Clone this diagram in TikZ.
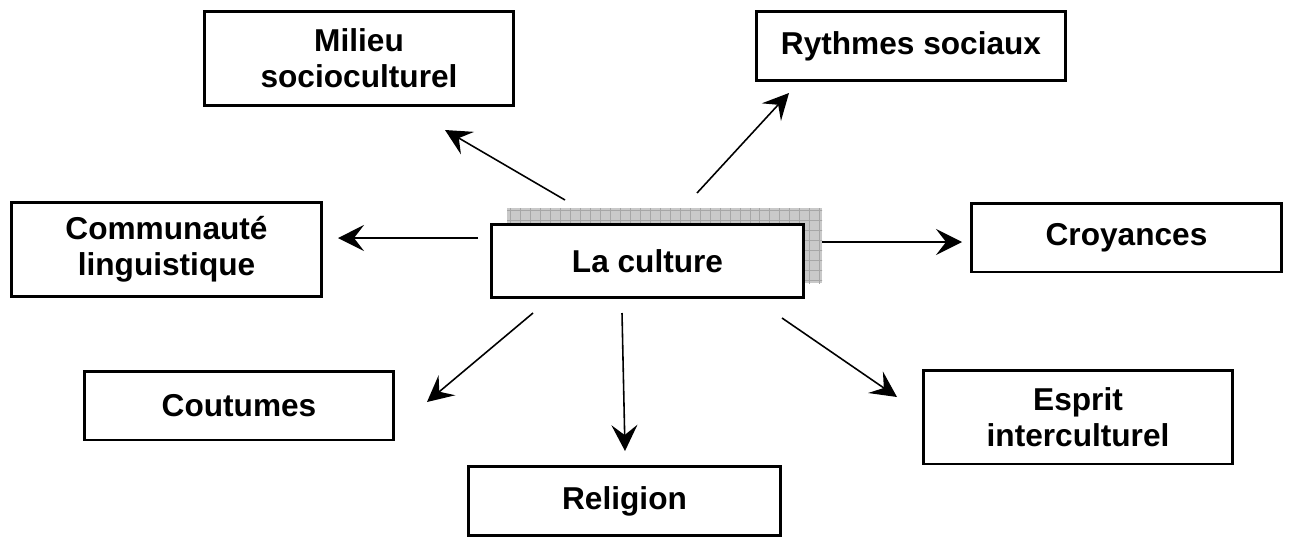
\documentclass[tikz,border=0pt]{standalone}
\usepackage{fontspec}
\setmainfont{Liberation Sans}
\usetikzlibrary{arrows.meta, calc}

\begin{document}
\begin{tikzpicture}[
        x=0.02cm, y=-0.02cm,
        box/.style={rectangle, draw, line width=1.7pt, align=center, fill=white, minimum width=6.2cm, minimum height=1.38cm, font=\fontsize{18}{20.5}\selectfont\bfseries},
        tallbox/.style={box, minimum height=1.88cm},
        arrow/.style={-{Stealth[length=5.2mm, width=5.2mm, inset=2mm]}, line width=0.9pt}
        ]
        \useasboundingbox (0,0) rectangle (1290,538);

        % Shadow of the centre box
        \begin{scope}
            \clip (507,208) rectangle (822,283);
            \fill[gray!42] (507,208) rectangle (822,283);
            \draw[gray!70, line width=0.4pt, step=0.2cm] (500,290) grid (830,200);
        \end{scope}

        % Nodes
        \node (culture) [box, minimum width=6.24cm, minimum height=1.46cm] at (647.5,261) {La culture};
        \node (milieu) [tallbox] at (359,58.5) {Milieu\\socioculturel};
        \node (rythmes) [box] at (911,46) {Rythmes sociaux};
        \node (communaute) [tallbox] at (166.5,249.5) {Communauté\\linguistique};
        \node (croyances) [box] at (1126.5,237.5) {Croyances};
        \node (coutumes) [box] at (239,405.5) {Coutumes};
        \node (religion) [box, minimum width=6.24cm] at (624.5,501) {Religion};
        \node (esprit) [tallbox] at (1078,417) {Esprit\\interculturel};

        % Arrow ends
        \coordinate (m0) at (565,200);  \coordinate (m1) at (445,130);
        \coordinate (r0) at (697,193);  \coordinate (r1) at (789,93);
        \coordinate (l0) at (478,238);  \coordinate (l1) at (338,238);
        \coordinate (c0) at (822,242);  \coordinate (c1) at (962,242);
        \coordinate (t0) at (533,313);  \coordinate (t1) at (427,402);
        \coordinate (g0) at (622,313);  \coordinate (g1) at (625,451);
        \coordinate (e0) at (782,318);  \coordinate (e1) at (897,397);

        % Arrows
        \draw [arrow] (m0) -- (m1);
        \draw [arrow] (r0) -- (r1);
        \draw [arrow] (l0) -- (l1);
        \draw [arrow] (c0) -- (c1);
        \draw [arrow] (t0) -- (t1);
        \draw [arrow] (g0) -- (g1);
        \draw [arrow] (e0) -- (e1);

    \end{tikzpicture}
\end{document}
